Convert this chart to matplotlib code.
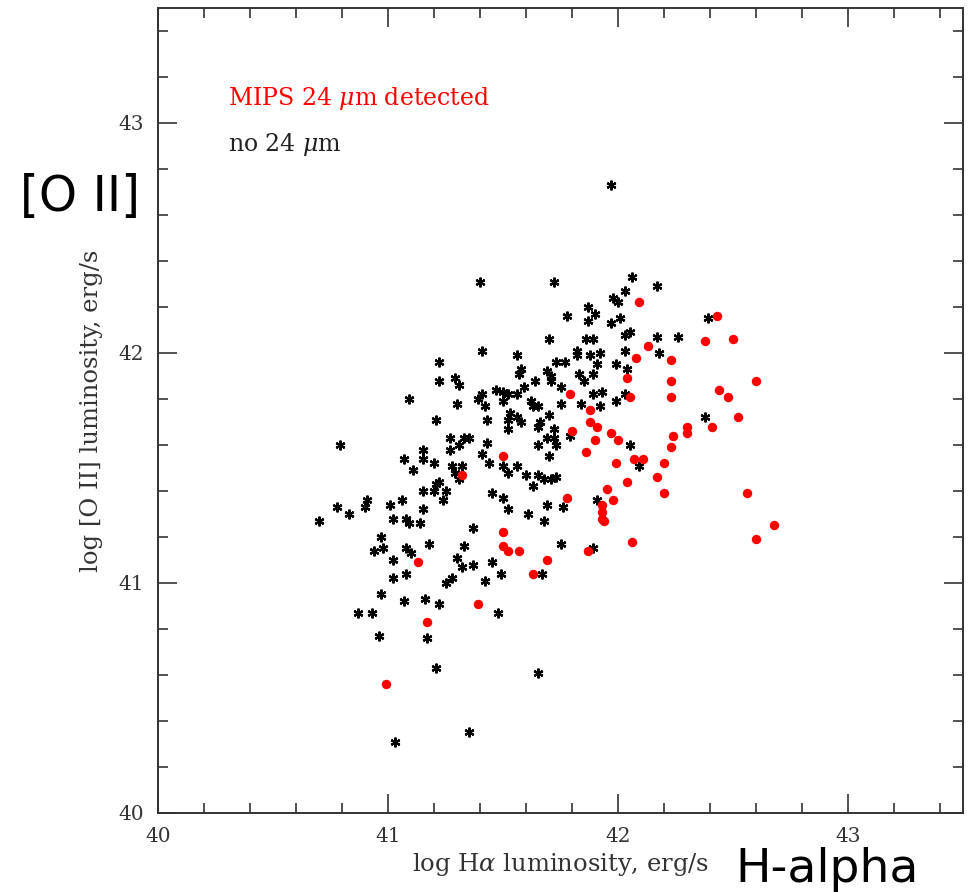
import matplotlib
matplotlib.use("Agg")
import matplotlib.pyplot as plt
from matplotlib.ticker import MultipleLocator

plt.rcParams['font.family'] = 'serif'
plt.rcParams['font.serif'] = ['DejaVu Serif']
plt.rcParams['mathtext.fontset'] = 'dejavuserif'

# no 24 um detection (black asterisks)
ha_no24 = [41.40, 41.41, 41.56, 41.22, 41.57, 41.58, 41.22, 41.29, 41.31, 41.64, 41.59, 41.47, 41.50,
           41.09, 41.30, 41.39, 41.41, 41.42, 41.50, 41.52, 41.56, 41.62, 41.63, 41.65, 41.53, 41.56,
           41.58, 41.52, 41.52, 41.43, 41.21, 41.66, 41.65, 41.27, 41.33, 41.35,
           40.79, 41.15, 41.07, 41.15, 41.20, 41.11, 41.27, 41.31, 41.43, 41.41, 41.44, 41.50, 41.52,
           41.56, 41.60, 41.65, 41.65, 41.28, 41.32, 41.29, 41.31, 41.22, 41.21, 41.20, 41.25, 41.15,
           41.24, 41.45, 41.50, 41.63, 41.52, 41.61, 40.91, 40.90, 40.78, 40.83, 40.70, 41.01, 41.06,
           41.15, 41.02, 41.08, 41.09, 41.14, 41.37, 40.97, 40.98, 40.94, 41.08, 41.10, 41.18, 41.33,
           41.02, 41.30, 41.32, 41.37, 41.45, 41.02, 41.08, 41.28, 41.25, 41.42, 41.49, 40.97, 41.07,
           41.16, 41.22, 40.87, 40.93, 41.48, 40.96, 41.17,
           41.21, 41.03, 41.35, 41.65, 41.97,
           41.72, 42.06, 42.17, 42.03, 41.98, 42.00, 41.87, 41.90, 41.87, 41.78, 41.97, 42.01, 42.39,
           42.03, 42.05, 42.17, 42.26, 41.70, 41.86, 41.89, 42.03, 42.18, 41.82, 41.82, 41.88, 41.92,
           41.73, 41.77, 41.91, 41.99, 42.04, 41.69, 41.71, 41.71, 41.83, 41.85, 41.89, 41.75, 42.03,
           41.89, 41.93, 41.99, 41.75, 41.84, 41.92, 41.70, 42.38, 41.79, 41.72, 41.69, 41.72,
           42.05, 41.70, 41.73, 42.09, 41.91, 41.68, 41.71, 41.73, 41.69, 41.76, 41.68, 41.75, 41.89,
           41.67]
oii_no24 = [42.31, 42.01, 41.99, 41.96, 41.91, 41.93, 41.88, 41.89, 41.86, 41.88, 41.85, 41.84, 41.83,
            41.80, 41.78, 41.80, 41.82, 41.77, 41.79, 41.82, 41.82, 41.79, 41.77, 41.77, 41.74, 41.72,
            41.70, 41.71, 41.67, 41.71, 41.71, 41.70, 41.68, 41.63, 41.63, 41.63,
            41.60, 41.58, 41.54, 41.54, 41.52, 41.49, 41.58, 41.60, 41.61, 41.56, 41.52, 41.51, 41.48,
            41.51, 41.47, 41.47, 41.60, 41.51, 41.51, 41.48, 41.45, 41.44, 41.43, 41.40, 41.40, 41.40,
            41.36, 41.39, 41.37, 41.42, 41.32, 41.30, 41.36, 41.33, 41.33, 41.30, 41.27, 41.34, 41.36,
            41.32, 41.28, 41.28, 41.26, 41.26, 41.24, 41.20, 41.15, 41.14, 41.15, 41.13, 41.17, 41.16,
            41.10, 41.11, 41.07, 41.08, 41.09, 41.02, 41.04, 41.02, 41.00, 41.01, 41.04, 40.95, 40.92,
            40.93, 40.91, 40.87, 40.87, 40.87, 40.77, 40.76,
            40.63, 40.31, 40.35, 40.61, 42.73,
            42.31, 42.33, 42.29, 42.27, 42.24, 42.22, 42.20, 42.17, 42.14, 42.16, 42.13, 42.15, 42.15,
            42.08, 42.09, 42.07, 42.07, 42.06, 42.06, 42.06, 42.01, 42.00, 42.01, 41.99, 41.99, 42.00,
            41.96, 41.96, 41.95, 41.95, 41.93, 41.92, 41.90, 41.88, 41.91, 41.88, 41.91, 41.85, 41.82,
            41.82, 41.83, 41.79, 41.78, 41.78, 41.77, 41.73, 41.72, 41.64, 41.67, 41.63, 41.63,
            41.60, 41.55, 41.60, 41.51, 41.36, 41.45, 41.45, 41.46, 41.34, 41.33, 41.27, 41.17, 41.15,
            41.04]

# MIPS 24 um detected (red dots)
ha_mips = [41.50, 41.32, 41.50, 41.50, 41.52, 41.57, 41.13, 41.63, 41.39, 41.17, 40.99,
           42.09, 42.43, 42.38, 42.50, 42.13, 42.08, 42.23, 42.04, 42.23, 42.60, 42.44, 42.48, 42.05,
           42.23, 41.79, 41.88, 42.52, 41.88, 41.91, 42.41, 42.30, 42.30, 41.80, 41.97, 42.24,
           41.90, 42.00, 42.23, 41.86, 41.99, 42.07, 42.11, 42.20, 42.17, 42.04, 41.95, 42.20, 42.56,
           41.98, 41.78, 41.93, 41.93, 41.93, 41.94, 42.68, 42.60, 42.06, 41.87, 41.69]
oii_mips = [41.55, 41.47, 41.22, 41.16, 41.14, 41.14, 41.09, 41.04, 40.91, 40.83, 40.56,
            42.22, 42.16, 42.05, 42.06, 42.03, 41.98, 41.97, 41.89, 41.88, 41.88, 41.84, 41.81, 41.81,
            41.81, 41.82, 41.75, 41.72, 41.70, 41.68, 41.68, 41.68, 41.65, 41.66, 41.65, 41.64,
            41.62, 41.62, 41.59, 41.57, 41.52, 41.54, 41.54, 41.52, 41.46, 41.44, 41.41, 41.39, 41.39,
            41.36, 41.37, 41.34, 41.31, 41.28, 41.27, 41.25, 41.19, 41.18, 41.14, 41.10]

fig = plt.figure(figsize=(9.73, 8.92), dpi=100)
ax = fig.add_axes([158 / 973, 79 / 892, 805 / 973, 805 / 892])

ax.plot(ha_no24, oii_no24, linestyle='none', marker=(6, 2, 0), markersize=7,
        markeredgewidth=1.6, color='black')
ax.plot(ha_mips, oii_mips, linestyle='none', marker='o', markersize=6.8,
        markeredgewidth=0, color='red')

ax.set_xlim(40, 43.5)
ax.set_ylim(40, 43.5)
ax.xaxis.set_major_locator(MultipleLocator(1))
ax.xaxis.set_minor_locator(MultipleLocator(0.2))
ax.yaxis.set_major_locator(MultipleLocator(1))
ax.yaxis.set_minor_locator(MultipleLocator(0.2))
ax.tick_params(which='both', direction='in', top=True, right=True, color='#333333')
ax.tick_params(which='major', length=14, width=1.2, labelsize=14.5, pad=10, labelcolor='#333333')
ax.tick_params(which='minor', length=7, width=1.2)
for s in ax.spines.values():
    s.set_linewidth(1.4)
    s.set_color('#333333')

ax.set_xlabel(r'log H$\alpha$ luminosity, erg/s', fontsize=17.5, color='#333333')
ax.set_ylabel(r'log [O II] luminosity, erg/s', fontsize=17.5, color='#333333')
ax.xaxis.set_label_coords(0.5, -0.047)
ax.yaxis.set_label_coords(-0.068, 0.50)

ax.text(0.087, 0.888, r'MIPS 24 $\mu$m detected', color='red', fontsize=17,
        transform=ax.transAxes, va='center', ha='left')
ax.text(0.087, 0.830, r'no 24 $\mu$m', color='#222222', fontsize=17,
        transform=ax.transAxes, va='center', ha='left')

fig.text(20 / 973, 1 - 197 / 892, '[O II]', fontsize=35, family='DejaVu Sans',
         ha='left', va='center')
fig.text(735 / 973, 1 - 869 / 892, 'H-alpha', fontsize=34, family='DejaVu Sans',
         ha='left', va='center')

fig.savefig('out.png', dpi=100, facecolor='white')
